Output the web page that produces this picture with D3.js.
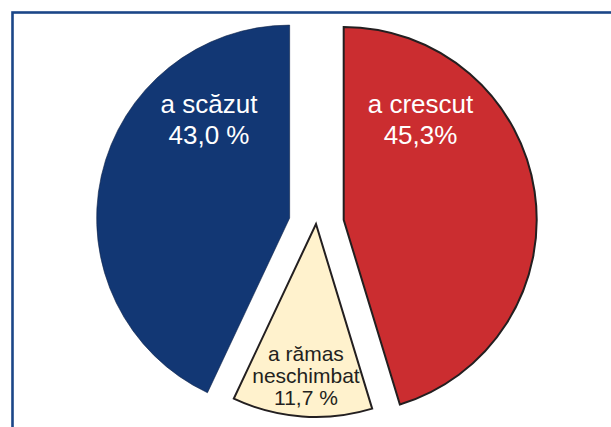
<!DOCTYPE html>
<html>
<head>
<meta charset="utf-8">
<script src="https://cdn.jsdelivr.net/npm/d3@7"></script>
<style>
  body { margin: 0; background: #ffffff; }
  svg { display: block; }
</style>
</head>
<body>
<div id="chart"></div>
<script>
// data (clockwise from 12 o'clock)
var categories = ["a crescut", "a rămas neschimbat", "a scăzut"];
var values = [45.3, 11.7, 43.0];
var labelLines = [
  ["a crescut", "45,3%"],
  ["a rămas", "neschimbat", "11,7 %"],
  ["a scăzut", "43,0 %"]
];

var width = 611, height = 427;
var cx = 316, cy = 224, radius = 193;

// styling / layout per slice
var fills = ["#cb2d30", "#fff2cd", "#123774"];
var strokes = ["#231f20", "#231f20", "#0d2247"];
var strokeWidths = [2, 2, 0.6];
var explode = [28, 0, 27];
var textColors = ["#ffffff", "#231f20", "#ffffff"];
var fontSizes = [26, 21, 26];
var lineGaps = [31, 22, 31];
var labelAngle = [35.7, 184.2, -37.5]; // degrees, from slice centre
var labelDist = [131.6, 137.4, 132.5];

var svg = d3
  .select("#chart")
  .append("svg")
  .attr("width", width)
  .attr("height", height);

svg
  .append("rect")
  .attr("width", width)
  .attr("height", height)
  .attr("fill", "#ffffff");

// frame (runs off the right and bottom edges)
svg
  .append("rect")
  .attr("x", 12.5)
  .attr("y", 12.5)
  .attr("width", width + 20)
  .attr("height", height + 20)
  .attr("fill", "none")
  .attr("stroke", "#1b4688")
  .attr("stroke-width", 2.6);

var data = categories.map(function (c, i) {
  return { name: c, value: values[i], lines: labelLines[i] };
});

var pie = d3
  .pie()
  .sort(null)
  .value(function (d) {
    return d.value;
  });

var arc = d3.arc().innerRadius(0).outerRadius(radius);

var slices = svg
  .append("g")
  .attr("transform", "translate(" + cx + "," + cy + ")")
  .selectAll("g")
  .data(pie(data))
  .enter()
  .append("g")
  .attr("transform", function (d, i) {
    var mid = (d.startAngle + d.endAngle) / 2;
    return (
      "translate(" +
      Math.sin(mid) * explode[i] +
      "," +
      -Math.cos(mid) * explode[i] +
      ")"
    );
  });

slices
  .append("path")
  .attr("d", arc)
  .attr("fill", function (d, i) {
    return fills[i];
  })
  .attr("stroke", function (d, i) {
    return strokes[i];
  })
  .attr("stroke-width", function (d, i) {
    return strokeWidths[i];
  })
  .attr("stroke-linejoin", "miter");

slices
  .append("text")
  .attr("text-anchor", "middle")
  .attr("font-family", "Arial, 'Liberation Sans', Helvetica, sans-serif")
  .attr("font-size", function (d, i) {
    return fontSizes[i];
  })
  .attr("fill", function (d, i) {
    return textColors[i];
  })
  .attr("transform", function (d, i) {
    var a = (labelAngle[i] * Math.PI) / 180;
    return (
      "translate(" +
      Math.sin(a) * labelDist[i] +
      "," +
      -Math.cos(a) * labelDist[i] +
      ")"
    );
  })
  .each(function (d, i) {
    var t = d3.select(this);
    d.data.lines.forEach(function (line, k) {
      t.append("tspan")
        .attr("x", 0)
        .attr("y", k * lineGaps[i])
        .text(line);
    });
  });
</script>
</body>
</html>
